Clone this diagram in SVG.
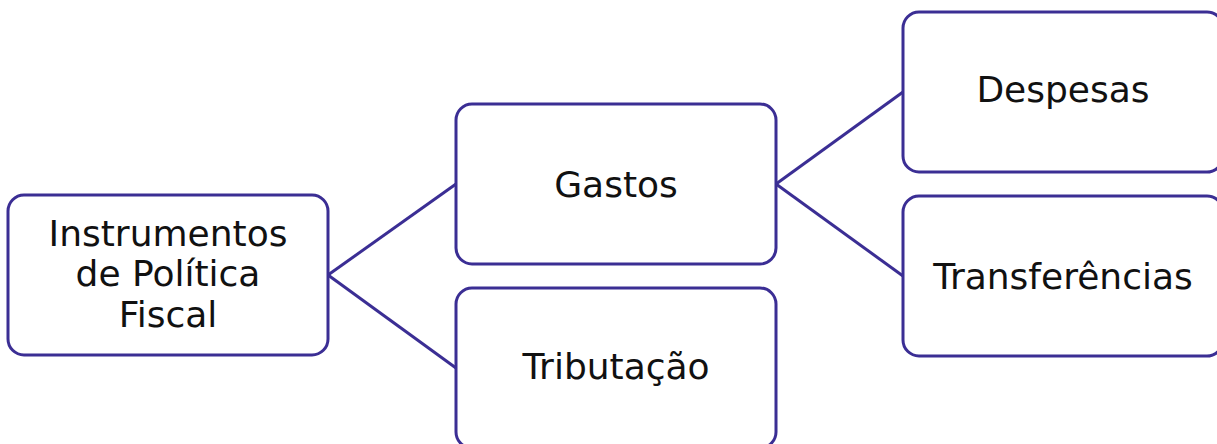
<svg xmlns="http://www.w3.org/2000/svg" width="1217" height="444" viewBox="0 0 1217 444">
<style>
.box{fill:#ffffff;stroke:#3b2e94;stroke-width:3}
.lbl{font-family:"DejaVu Sans",sans-serif;font-size:36px;fill:#111111;text-anchor:middle}
.edge{stroke:#3b2e94;stroke-width:3;fill:none}
</style>
<rect width="1217" height="444" fill="#ffffff"/>
<g id="connectors">
<line class="edge" x1="328" y1="275" x2="456" y2="184"/>
<line class="edge" x1="328" y1="275" x2="456" y2="368"/>
<line class="edge" x1="776" y1="184" x2="903" y2="92"/>
<line class="edge" x1="776" y1="184" x2="903" y2="276"/>
</g>
<g id="instrumentos">
<rect class="box" x="8" y="195" width="320" height="160" rx="16"/>
<text class="lbl" x="168" y="246">Instrumentos</text>
<text class="lbl" x="168" y="286">de Política</text>
<text class="lbl" x="168" y="327">Fiscal</text>
</g>
<g id="gastos">
<rect class="box" x="456" y="104" width="320" height="160" rx="16"/>
<text class="lbl" x="616" y="197">Gastos</text>
</g>
<g id="tributacao">
<rect class="box" x="456" y="288" width="320" height="160" rx="16"/>
<text class="lbl" x="616" y="379">Tributação</text>
</g>
<g id="despesas">
<rect class="box" x="903" y="12" width="320" height="160" rx="16"/>
<text class="lbl" x="1063" y="102">Despesas</text>
</g>
<g id="transferencias">
<rect class="box" x="903" y="196" width="320" height="160" rx="16"/>
<text class="lbl" x="1063" y="289">Transferências</text>
</g>
</svg>
